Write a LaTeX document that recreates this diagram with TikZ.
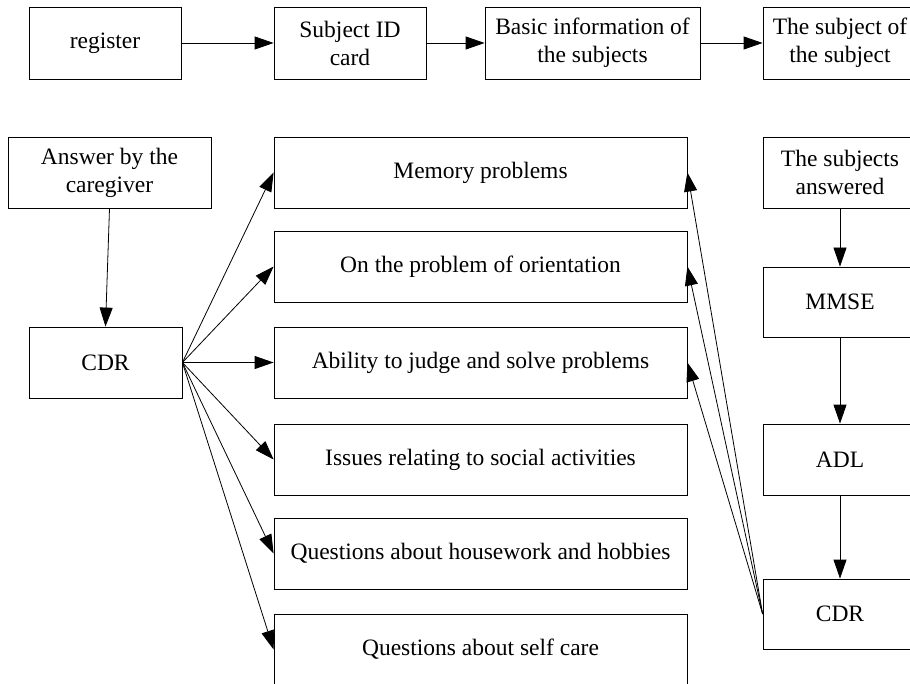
\documentclass[tikz,border=0pt]{standalone}
\usepackage{fontspec}
\setmainfont{Liberation Serif}
\usetikzlibrary{arrows.meta}
\begin{document}
\begin{tikzpicture}[x=1pt,y=-1pt,
  box/.style={draw, line width=0.8pt, inner sep=0pt, align=center,
    font=\fontsize{23.5}{28}\selectfont, minimum height=71pt},
  arr/.style={line width=0.8pt, -{Triangle[length=19pt,width=13pt]}}]
\useasboundingbox (0,0) rectangle (910,684);
\clip (0,0) rectangle (910,684);
% top row
\node[box, minimum width=152pt, minimum height=72pt] (reg) at (105,43) {register};
\node[box, minimum width=152pt, minimum height=72pt] (sid) at (350,43) {Subject ID\\card};
\node[box, minimum width=215pt, minimum height=72pt] (basic) at (592.5,43) {Basic information of\\the subjects};
\node[box, minimum width=154pt, minimum height=72pt] (subj) at (840,43) {The subject of\\the subject};
\draw[arr] (reg) -- (sid);
\draw[arr] (sid) -- (basic);
\draw[arr] (basic) -- (subj);
% left column
\node[box, minimum width=203pt] (ans) at (109.5,172.5) {Answer by the\\caregiver};
\node[box, minimum width=153pt] (cdrL) at (105.5,362.5) {CDR};
\draw[arr] (ans.south) -- (cdrL.north);
% middle column
\node[box, minimum width=413pt] (mem) at (480.5,172.5) {Memory problems};
\node[box, minimum width=413pt] (ori) at (480.5,266.5) {On the problem of orientation};
\node[box, minimum width=413pt] (abl) at (480.5,362.5) {Ability to judge and solve problems};
\node[box, minimum width=413pt] (soc) at (480.5,459.5) {Issues relating to social activities};
\node[box, minimum width=413pt] (hou) at (480.5,553.5) {Questions about housework and hobbies};
\node[box, minimum width=413pt] (self) at (480.5,649.5) {Questions about self care};
\foreach \t in {mem,ori,abl,soc,hou,self}
  \draw[arr] (cdrL.east) -- (\t.west);
% right column
\node[box, minimum width=154pt] (sa) at (840,172.5) {The subjects\\answered};
\node[box, minimum width=154pt, minimum height=70pt] (mmse) at (840,302) {MMSE};
\node[box, minimum width=154pt] (adl) at (840,459.5) {ADL};
\node[box, minimum width=154pt, minimum height=70pt] (cdrR) at (840,614) {CDR};
\draw[arr] (sa) -- (mmse);
\draw[arr] (mmse) -- (adl);
\draw[arr] (adl) -- (cdrR);
\foreach \t in {mem,ori,abl}
  \draw[arr] (cdrR.west) -- (\t.east);
\end{tikzpicture}
\end{document}
